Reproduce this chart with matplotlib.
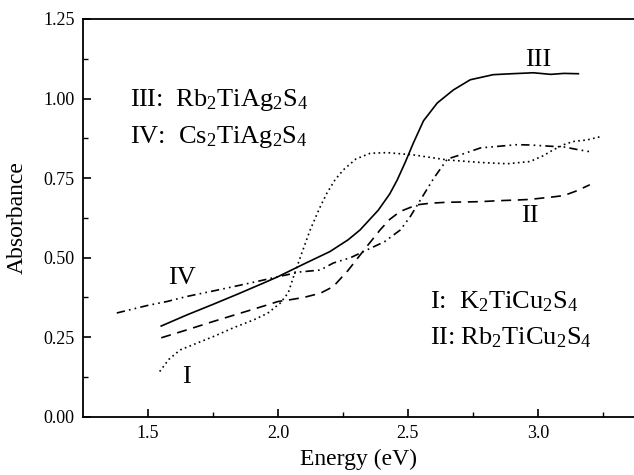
import matplotlib
matplotlib.use("Agg")
import matplotlib.pyplot as plt

plt.rcParams['font.family'] = ['Liberation Serif', 'DejaVu Serif']
plt.rcParams['mathtext.fontset'] = 'custom'
plt.rcParams['mathtext.rm'] = 'Liberation Serif'
plt.rcParams['mathtext.it'] = 'Liberation Serif:italic'

# curve I: K2TiCu2S4 (dotted)
x1 = [1.545, 1.58, 1.624, 1.70, 1.752, 1.83, 1.906, 1.96, 2.009, 2.04, 2.06, 2.09,
      2.124, 2.16, 2.188, 2.22, 2.252, 2.30, 2.355, 2.42, 2.52, 2.652, 2.78, 2.882,
      2.97, 3.02, 3.06, 3.10, 3.136, 3.19, 3.24]
y1 = [0.142, 0.18, 0.21, 0.235, 0.252, 0.28, 0.304, 0.325, 0.357, 0.39, 0.44, 0.51,
      0.587, 0.655, 0.702, 0.745, 0.776, 0.81, 0.828, 0.83, 0.823, 0.807, 0.799, 0.795,
      0.802, 0.82, 0.839, 0.855, 0.865, 0.87, 0.88]

# curve II: Rb2TiCu2S4 (dashed)
x2 = [1.551, 1.65, 1.75, 1.85, 1.95, 2.0, 2.05, 2.1, 2.163, 2.213, 2.27, 2.342, 2.393,
      2.43, 2.47, 2.535, 2.586, 2.65, 2.728, 2.78, 2.85, 2.92, 2.97, 3.06, 3.1, 3.15, 3.2]
y2 = [0.248, 0.273, 0.299, 0.324, 0.349, 0.362, 0.368, 0.375, 0.388, 0.409, 0.46, 0.535,
      0.587, 0.62, 0.645, 0.666, 0.671, 0.674, 0.675, 0.676, 0.679, 0.681, 0.683, 0.691,
      0.695, 0.71, 0.729]

# curve III: Rb2TiAg2S4 (solid)
x3 = [1.551, 1.65, 1.75, 1.85, 1.95, 2.0, 2.1, 2.2, 2.27, 2.316, 2.386, 2.43, 2.459,
      2.49, 2.521, 2.56, 2.613, 2.675, 2.74, 2.828, 2.9, 2.983, 3.05, 3.1, 3.156]
y3 = [0.285, 0.32, 0.353, 0.387, 0.422, 0.44, 0.48, 0.519, 0.556, 0.587, 0.649, 0.70,
      0.744, 0.80, 0.86, 0.93, 0.986, 1.027, 1.059, 1.075, 1.078, 1.081, 1.076, 1.079, 1.078]

# curve IV: Cs2TiAg2S4 (dash-dot-dot)
x4 = [1.38, 1.45, 1.5, 1.573, 1.65, 1.75, 1.83, 1.92, 2.0, 2.086, 2.163, 2.213, 2.28,
      2.342, 2.41, 2.471, 2.51, 2.548, 2.6, 2.652, 2.702, 2.78, 2.85, 2.92, 2.97, 3.05,
      3.1, 3.15, 3.2]
y4 = [0.326, 0.34, 0.35, 0.362, 0.378, 0.395, 0.409, 0.425, 0.44, 0.455, 0.461, 0.483,
      0.50, 0.524, 0.55, 0.587, 0.63, 0.681, 0.75, 0.81, 0.823, 0.845, 0.85, 0.855, 0.854,
      0.85, 0.848, 0.84, 0.833]

fig = plt.figure(figsize=(6.34, 4.75), dpi=100)
ax = fig.add_axes([83/634, 58.3/475, 551/634, 397.7/475])

lw = 1.2
ax.plot(x1, y1, color='black', lw=lw, linestyle=(0, (1, 2)))
ax.plot(x2, y2, color='black', lw=lw, linestyle=(0, (6, 4)))
ax.plot(x3, y3, color='black', lw=lw, linestyle='-')
ax.plot(x4, y4, color='black', lw=lw, linestyle=(0, (5, 2.5, 1, 2.5, 1, 2.5)))

ax.set_xlim(1.25, 3.37)
ax.set_ylim(0, 1.25)
ax.set_xticks([1.5, 2.0, 2.5, 3.0])
ax.set_xticks([1.75, 2.25, 2.75, 3.25], minor=True)
ax.set_yticks([0, 0.25, 0.5, 0.75, 1.0, 1.25])
ax.set_yticks([0.125, 0.375, 0.625, 0.875, 1.125], minor=True)
ax.set_yticklabels(['0.00', '0.25', '0.50', '0.75', '1.00', '1.25'])
ax.set_xticklabels(['1.5', '2.0', '2.5', '3.0'])
ax.tick_params(which='major', direction='in', length=6, width=1.2, labelsize=13, pad=6)
ax.tick_params(which='minor', direction='in', length=3.5, width=1.0)
ax.spines['right'].set_visible(False)
for s in ['left', 'bottom', 'top']:
    ax.spines[s].set_linewidth(1.3)

ax.set_xlabel('Energy (eV)', fontsize=17)
ax.set_ylabel('Absorbance', fontsize=17)
ax.xaxis.set_label_coords(0.5, -0.08)
ax.yaxis.set_label_coords(-0.10, 0.5)

fs = 19
ax.text(1.432, 0.996, r'III:  Rb$_2$TiAg$_2$S$_4$', fontsize=fs, va='center')
ax.text(1.432, 0.88, r'IV:  Cs$_2$TiAg$_2$S$_4$', fontsize=fs, va='center')
ax.text(2.586, 0.362, r'I:  K$_2$TiCu$_2$S$_4$', fontsize=fs, va='center')
ax.text(2.586, 0.247, r'II: Rb$_2$TiCu$_2$S$_4$', fontsize=fs, va='center')

ax.text(3.0, 1.12, 'III', fontsize=fs, ha='center', va='center')
ax.text(2.97, 0.63, 'II', fontsize=fs, ha='center', va='center')
ax.text(1.65, 0.125, 'I', fontsize=fs, ha='center', va='center')
ax.text(1.63, 0.436, 'IV', fontsize=fs, ha='center', va='center')

fig.savefig('out.png', dpi=100)
